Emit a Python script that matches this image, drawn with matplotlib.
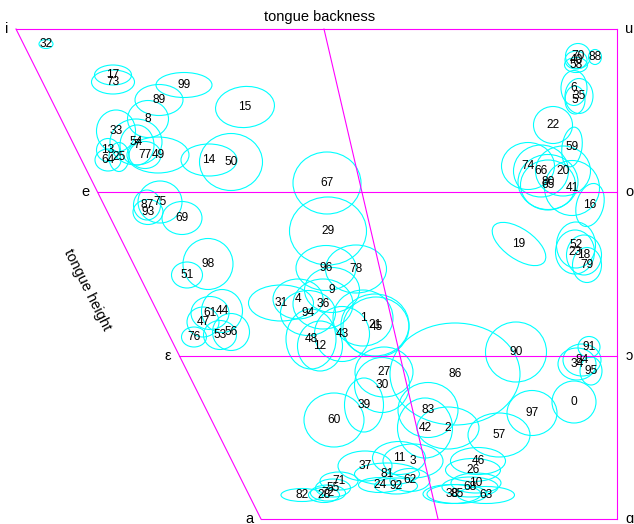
import matplotlib
matplotlib.use("Agg")
import matplotlib.pyplot as plt
from matplotlib.patches import Ellipse

plt.rcParams['font.family'] = ['Liberation Sans', 'DejaVu Sans']

# vowel space frame (chart units: backness to the right, height upwards)
level_heights = [490, 327, 163, 0]
front_edge = [0, 81.5, 163, 245]
back_edge = 601
mid_top, mid_bottom = 308, 422
front_vowels = ['i', 'e', 'ε', 'a']
back_vowels = ['u', 'o', 'ɔ', 'ɑ']

# mean position of each token, 0..99
backness = [558, 347, 432, 397, 282, 559, 558, 121, 132, 316,
            460, 383, 304, 92, 193, 229, 574, 97, 568, 503,
            547, 359, 537, 559, 364, 103, 457, 368, 308, 312,
            366, 265, 30, 100, 561, 563, 307, 349, 436, 348,
            560, 556, 409, 326, 206, 360, 462, 187, 295, 142,
            215, 171, 560, 204, 120, 317, 215, 483, 560, 556,
            318, 194, 394, 470, 92, 532, 525, 311, 454, 166,
            562, 323, 312, 97, 512, 144, 178, 129, 340, 571,
            532, 371, 286, 412, 566, 441, 439, 131, 579, 143,
            500, 573, 380, 132, 292, 575, 310, 516, 192, 168]
height = [117, 201, 91, 58, 220, 419, 431, 374, 400, 229,
          36, 61, 173, 369, 359, 412, 314, 444, 264, 275,
          348, 194, 394, 267, 34, 362, 49, 147, 24, 288,
          134, 216, 475, 388, 155, 423, 215, 53, 25, 114,
          459, 331, 91, 185, 208, 192, 58, 197, 180, 364,
          357, 244, 274, 184, 377, 31, 187, 84, 454, 372,
          99, 206, 39, 24, 359, 334, 348, 336, 32, 301,
          463, 38, 26, 437, 353, 317, 182, 364, 250, 254,
          337, 45, 24, 109, 159, 25, 145, 314, 462, 419,
          167, 172, 33, 307, 206, 148, 251, 106, 255, 434]

# spread ellipse of each token
ell_w = [44, 60, 62, 60, 50, 20, 26, 34, 41, 55,
         50, 53, 45, 23, 56, 59, 27, 37, 35, 62,
         55, 68, 39, 39, 43, 20, 55, 58, 31, 77,
         55, 65, 14, 39, 38, 28, 60, 54, 58, 39,
         22, 55, 55, 55, 41, 66, 55, 32, 50, 62,
         63, 31, 39, 33, 52, 35, 37, 62, 23, 20,
         60, 38, 40, 57, 26, 55, 55, 68, 56, 40,
         25, 38, 35, 43, 53, 44, 25, 32, 61, 29,
         60, 65, 42, 60, 38, 60, 130, 27, 13, 48,
         61, 22, 43, 30, 55, 22, 60, 50, 50, 56]
ell_h = [42, 56, 42, 34, 40, 28, 35, 40, 37, 45,
         20, 33, 50, 23, 32, 41, 44, 20, 40, 30,
         50, 62, 37, 44, 15, 29, 23, 50, 15, 68,
         55, 36, 9, 42, 32, 35, 50, 30, 19, 54,
         18, 55, 60, 55, 43, 60, 27, 30, 60, 36,
         57, 26, 46, 29, 46, 18, 37, 44, 15, 40,
         54, 33, 23, 17, 22, 50, 52, 62, 20, 33,
         25, 18, 16, 24, 47, 42, 20, 27, 48, 35,
         55, 22, 13, 55, 32, 19, 102, 30, 15, 31,
         60, 21, 16, 25, 45, 28, 45, 45, 51, 25]
ell_ang = [0] * 100
ell_ang[15] = 5
ell_ang[16] = -15
ell_ang[19] = -35
ell_ang[59] = -8

fig = plt.figure(figsize=(6.34, 5.24), dpi=100)
ax = fig.add_axes([16 / 634, 5 / 524, 601 / 634, 490 / 524])
ax.set_xlim(0, 601)
ax.set_ylim(0, 490)
ax.set_aspect('equal')
ax.axis('off')

pink = '#ff00ff'
lw = 0.8
# outline of the trapezoid plus the height levels
ax.plot([front_edge[0], front_edge[-1]], [level_heights[0], level_heights[-1]], color=pink, lw=lw, clip_on=False)
ax.plot([back_edge, back_edge], [level_heights[0], level_heights[-1]], color=pink, lw=lw, clip_on=False)
for fx, h in zip(front_edge, level_heights):
    ax.plot([fx, back_edge], [h, h], color=pink, lw=lw, clip_on=False)
ax.plot([mid_top, mid_bottom], [level_heights[0], level_heights[-1]], color=pink, lw=lw, clip_on=False)

for fx, h, v in zip(front_edge, level_heights, front_vowels):
    ax.text(fx - 8, h, v, ha='right', va='center', fontsize=10.5, clip_on=False)
for h, v in zip(level_heights, back_vowels):
    ax.text(back_edge + 12, h, v, ha='center', va='center', fontsize=10.5, clip_on=False)

for k in range(len(backness)):
    ax.add_patch(Ellipse((backness[k], height[k]), ell_w[k], ell_h[k], angle=ell_ang[k],
                         fill=False, edgecolor='#00ffff', lw=0.8, clip_on=False))
for k in range(len(backness)):
    ax.text(backness[k], height[k], str(k), ha='center', va='center', fontsize=8.6, clip_on=False)

ax.text(304, 502, 'tongue backness', ha='center', va='center', fontsize=10.5, clip_on=False)
ax.text(71, 229, 'tongue height', ha='center', va='center', fontsize=10.5,
        rotation=-63.4, rotation_mode='anchor', clip_on=False)

fig.savefig('out.png', dpi=100)
